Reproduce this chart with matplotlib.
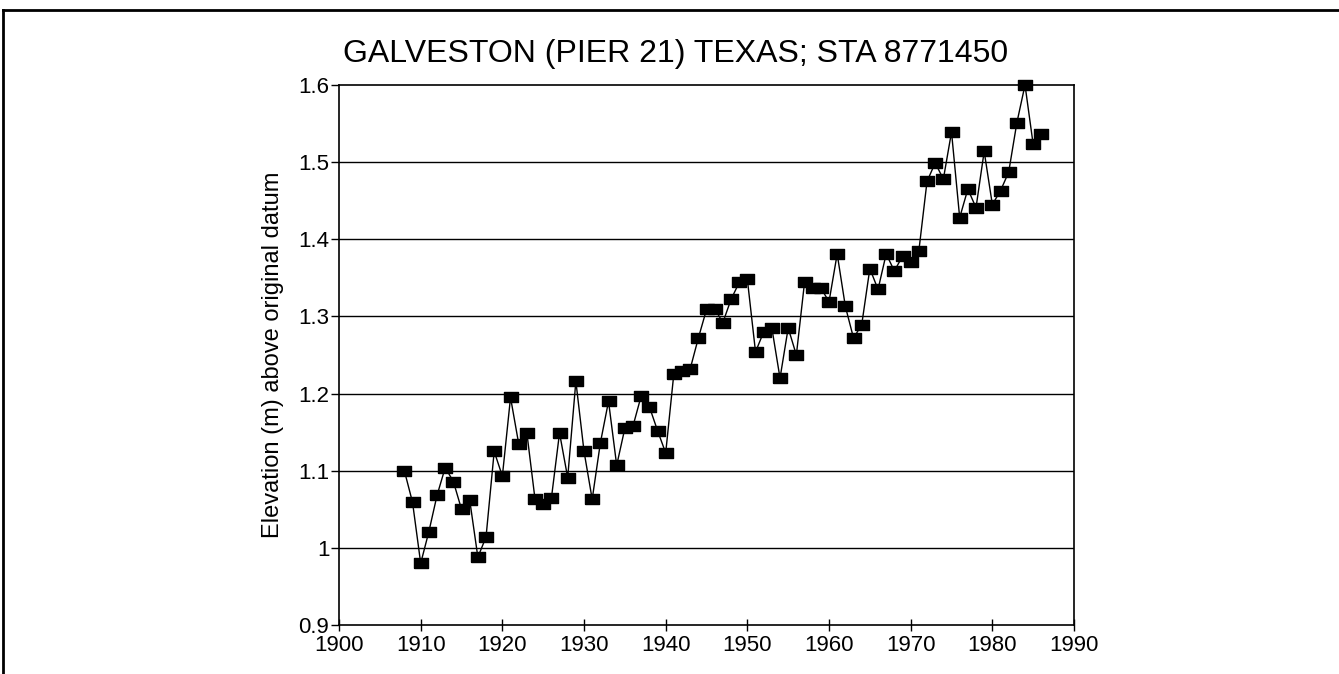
import numpy as np
import matplotlib
matplotlib.use("Agg")
import matplotlib.pyplot as plt
from matplotlib.lines import Line2D

plt.rcParams["font.family"] = ["Liberation Sans", "DejaVu Sans"]

# annual mean sea level, Galveston Pier 21
years = list(range(1908, 1987))
elev = [
    1.100, 1.059, 0.980, 1.021, 1.068, 1.104, 1.086, 1.050, 1.062, 0.988,
    1.014, 1.125, 1.093, 1.195, 1.135, 1.149, 1.063, 1.057, 1.064, 1.149,
    1.091, 1.216, 1.125, 1.063, 1.136, 1.190, 1.107, 1.155, 1.158, 1.197,
    1.183, 1.152, 1.123, 1.226, 1.229, 1.232, 1.272, 1.309, 1.310, 1.292,
    1.322, 1.344, 1.348, 1.254, 1.280, 1.285, 1.220, 1.285, 1.250, 1.344,
    1.337, 1.337, 1.319, 1.381, 1.313, 1.272, 1.289, 1.362, 1.335, 1.381,
    1.359, 1.378, 1.371, 1.385, 1.475, 1.499, 1.478, 1.539, 1.428, 1.465,
    1.441, 1.514, 1.445, 1.463, 1.487, 1.551, 1.600, 1.523, 1.537,
]
xticks = [1900, 1910, 1920, 1930, 1940, 1950, 1960, 1970, 1980, 1990]
yticks = [0.9, 1.0, 1.1, 1.2, 1.3, 1.4, 1.5, 1.6]
ytick_labels = ["0.9", "1", "1.1", "1.2", "1.3", "1.4", "1.5", "1.6"]

fig = plt.figure(figsize=(13.39, 6.74), dpi=100)
ax = fig.add_axes([0.2532, 0.0727, 0.5489, 0.8012])

# page frame (top and left edges)
fig.add_artist(Line2D([0.0025, 1.0], [0.985, 0.985], color="black", lw=2))
fig.add_artist(Line2D([0.0025, 0.0025], [0.0, 0.985], color="black", lw=2))

for v in yticks[1:-1]:
    ax.axhline(v, color="black", lw=1.0, zorder=1)

rect = [(-1.3, -1), (1.3, -1), (1.3, 1), (-1.3, 1), (-1.3, -1)]
ax.plot(years, elev, color="black", lw=1.0, marker=rect, markersize=10,
        markerfacecolor="black", markeredgecolor="black", zorder=3,
        clip_on=False)

ax.set_xlim(1900, 1990)
ax.set_ylim(0.9, 1.6)
ax.set_xticks(xticks)
ax.set_yticks(yticks)
ax.set_yticklabels(ytick_labels)
ax.tick_params(axis="y", direction="out", length=6, width=1, labelsize=16, pad=1)
ax.tick_params(axis="x", direction="inout", length=8, width=1, labelsize=16, pad=3)
for s in ax.spines.values():
    s.set_linewidth(1.2)

ax.set_ylabel("Elevation (m) above original datum", fontsize=17, labelpad=10)
fig.text(676 / 1339, 1 - 62 / 674, "GALVESTON (PIER 21) TEXAS; STA 8771450",
         fontsize=23, ha="center", va="baseline")

fig.savefig("out.png", dpi=100)
